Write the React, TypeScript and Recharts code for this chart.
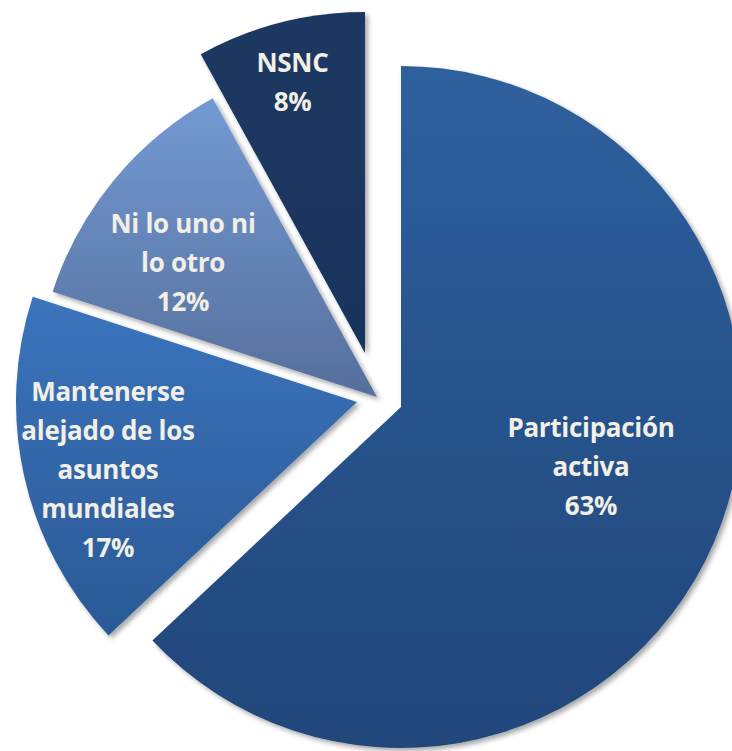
import React from 'react';
import { Cell, Pie, PieChart } from 'recharts';

// categories (line breaks = how the labels wrap) and shares in %
const CATEGORIES = [
  'Participación\nactiva',
  'Mantenerse\nalejado de los\nasuntos\nmundiales',
  'Ni lo uno ni\nlo otro',
  'NSNC',
];
const VALUES = [63, 17, 12, 8];

const DATA = CATEGORIES.map((name, i) => ({ name, value: VALUES[i] }));

// layout
const W = 732;
const H = 751;
const BASE = { x: 401, y: 407 };
const R = 341;
const EXPLODE = [[0, 0], [-44, -5], [-24, -10], [-36, -54]];
const LABEL_AT = [[190, 59.5], [-249, 67.5], [-194, -135], [-72.5, -271]];
const GRADS = [
  ['#2E609E', '#21467A'],
  ['#3B74BD', '#2A5995'],
  ['#739AD4', '#566F9C'],
  ['#1C3962', '#19345C'],
];
const FONT = 26;
const LH = 39;
const CAP = 19;

function labelFor(idx: number) {
  return (props: any) => {
    const { cx, cy, index, percent } = props;
    if (index !== idx) return <g />;
    const name: string = props.name ?? props.payload?.name ?? '';
    const lines = [...name.split('\n'), `${Math.round(percent * 100)}%`];
    const x = cx + LABEL_AT[idx][0];
    const y = cy + LABEL_AT[idx][1];
    const first = y - ((lines.length - 1) / 2) * LH + CAP / 2;
    return (
      <text
        x={x}
        textAnchor="middle"
        fill="#F1EFE6"
        fontFamily="'Open Sans', Lato, sans-serif"
        fontWeight={700}
        fontSize={FONT}
        letterSpacing={-0.3}
      >
        {lines.map((l, i) => (
          <tspan key={i} x={x} y={first + i * LH}>{l}</tspan>
        ))}
      </text>
    );
  };
}

export default function App() {
  return (
    <div style={{ position: 'absolute', left: 0, top: 0, width: W, height: H, background: '#fff' }}>
      <PieChart width={W} height={H} margin={{ top: 0, right: 0, bottom: 0, left: 0 }}>
        <defs>
          <filter id="shadow" x="-20%" y="-20%" width="140%" height="140%">
            <feDropShadow dx={3} dy={3} stdDeviation={2.5} floodColor="#000" floodOpacity={0.35} />
          </filter>
          {GRADS.map(([a, b], i) => (
            <linearGradient key={i} id={`g${i}`} x1="0" y1="0" x2="0" y2="1">
              <stop offset="0%" stopColor={a} />
              <stop offset="100%" stopColor={b} />
            </linearGradient>
          ))}
        </defs>
        {DATA.map((_, k) => (
          <Pie
            key={k}
            data={DATA}
            dataKey="value"
            nameKey="name"
            cx={BASE.x + EXPLODE[k][0]}
            cy={BASE.y + EXPLODE[k][1]}
            outerRadius={R}
            innerRadius={0}
            startAngle={90}
            endAngle={-270}
            stroke="none"
            labelLine={false}
            label={labelFor(k)}
            isAnimationActive={false}
          >
            {DATA.map((_, i) => (
              <Cell
                key={i}
                fill={i === k ? `url(#g${i})` : 'none'}
                stroke="none"
                filter={i === k ? 'url(#shadow)' : undefined}
              />
            ))}
          </Pie>
        ))}
      </PieChart>
    </div>
  );
}
